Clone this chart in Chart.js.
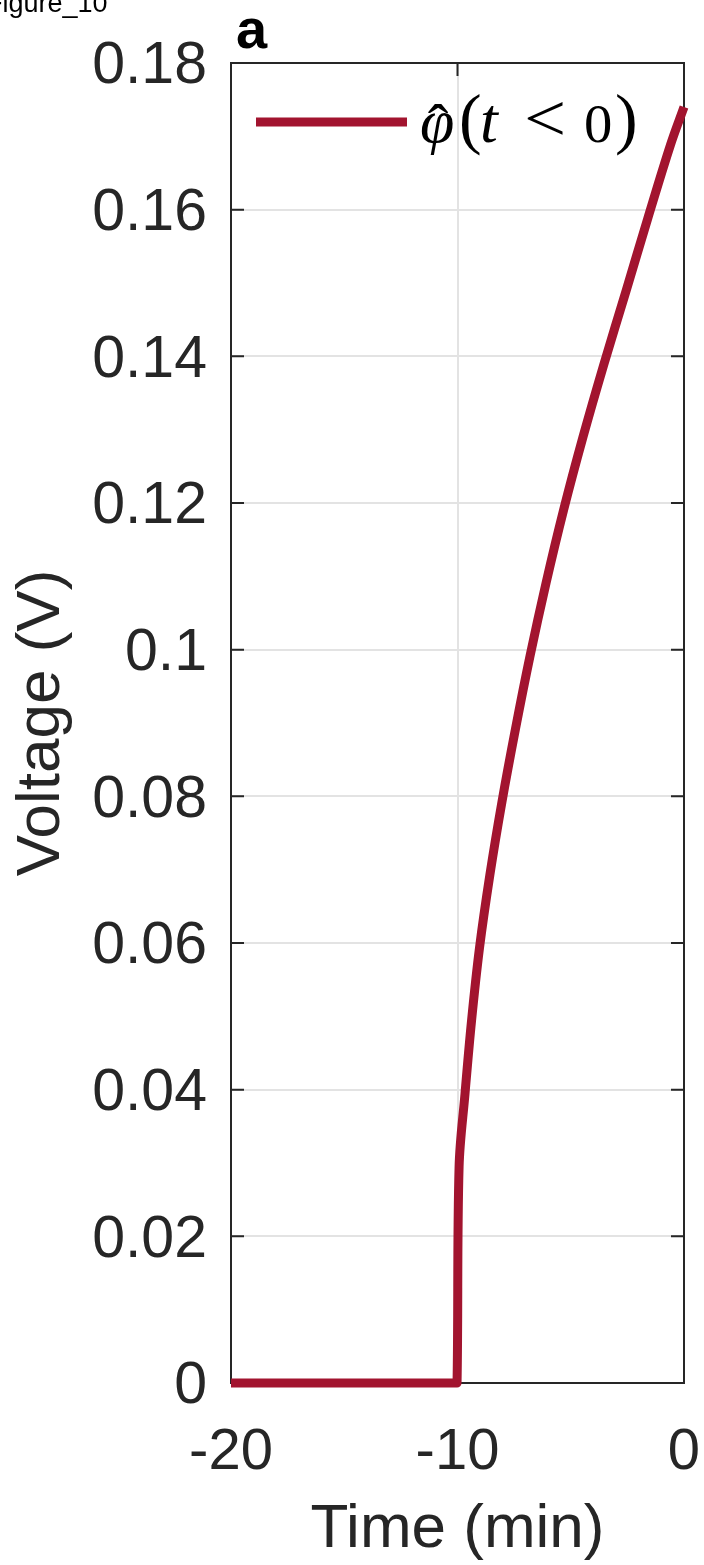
<!DOCTYPE html>
<html><head><meta charset="utf-8">
<script src="https://cdn.jsdelivr.net/npm/chart.js@4.4.1/dist/chart.umd.min.js"></script>
<style>
html,body{margin:0;padding:0;background:#fff;overflow:hidden;}
#wrap{position:relative;width:704px;height:1565px;}
canvas{position:absolute;left:0;top:0;}
.fig{position:absolute;left:-14px;top:-10px;font:27px/27px 'Liberation Sans',Arial,sans-serif;color:#000;white-space:nowrap;}
.pan{position:absolute;left:236px;top:1px;font:bold 56px/56px 'Liberation Sans',Arial,sans-serif;color:#000;}
</style></head><body>
<div id="wrap"><canvas id="c" width="704" height="1565"></canvas>
<div class="fig">Figure_10</div><div class="pan">a</div></div>
<script>
// ---- data ----
const timeMin = [-20, -10.1, -10.02, -9.93, -9.67, -9.38, -9.03, -8.57, -8.04, -7.44, -6.80, -6.09, -5.32, -4.46, -3.53, -2.56, -1.59, -0.60, 0];
const voltage = [0, 0, 0, 0.0295, 0.0394, 0.0494, 0.0593, 0.0693, 0.0792, 0.0892, 0.0991, 0.1091, 0.119, 0.129, 0.139, 0.1489, 0.1589, 0.1688, 0.174];
const xTicks = [-20, -10, 0];
const xTickLabels = ['-20', '-10', '0'];
const yTicks = [0, 0.02, 0.04, 0.06, 0.08, 0.10, 0.12, 0.14, 0.16, 0.18];
const yTickLabels = ['0', '0.02', '0.04', '0.06', '0.08', '0.1', '0.12', '0.14', '0.16', '0.18'];
const seriesLabel = 'φ̂(t < 0)';
const xTitle = 'Time (min)';
const yTitle = 'Voltage (V)';

const TXT = '#262626';
const LINE = '#A2142F';
const GRID = '#e3e3e3';
const SANS = "'Liberation Sans', Arial, Helvetica, sans-serif";
const SERIF = "'Liberation Serif', 'Times New Roman', serif";

const boxTicks = {
  id: 'boxTicks',
  beforeDatasetsDraw(chart) {
    const {ctx, chartArea: a, scales: {x, y}} = chart;
    ctx.save();
    ctx.strokeStyle = TXT;
    ctx.lineWidth = 2;
    ctx.strokeRect(a.left, a.top, a.right - a.left, a.bottom - a.top);
    const L = 13;
    ctx.beginPath();
    yTicks.forEach(v => {
      const p = y.getPixelForValue(v);
      ctx.moveTo(a.left, p); ctx.lineTo(a.left + L, p);
      ctx.moveTo(a.right, p); ctx.lineTo(a.right - L, p);
    });
    xTicks.forEach(v => {
      const p = x.getPixelForValue(v);
      ctx.moveTo(p, a.bottom); ctx.lineTo(p, a.bottom - L);
      ctx.moveTo(p, a.top); ctx.lineTo(p, a.top + L);
    });
    ctx.stroke();
    ctx.restore();
  }
};

const mathLegend = {
  id: 'mathLegend',
  afterDatasetsDraw(chart) {
    const {ctx, chartArea: a} = chart;
    const ds = chart.data.datasets[0];
    const yc = a.top + 59;
    ctx.save();
    ctx.strokeStyle = ds.borderColor;
    ctx.lineWidth = ds.borderWidth;
    ctx.lineCap = 'butt';
    ctx.beginPath();
    ctx.moveTo(a.left + 25, yc);
    ctx.lineTo(a.left + 176, yc);
    ctx.stroke();
    // label (seriesLabel) typeset as math: italic symbols, upright operators
    const base = a.top + 79;
    const pieces = [
      {t: 'φ', f: 'italic 62px', dx: 189, dy: 0, sx: 1},
      {t: '(', f: '68px', dx: 228, dy: -1, sx: 1},
      {t: 't', f: 'italic 64px', dx: 249, dy: 0, sx: 1},
      {t: '<', f: '68px', dx: 293, dy: -1, sx: 1.1},
      {t: '0', f: '54px', dx: 353, dy: 0, sx: 1.05},
      {t: ')', f: '68px', dx: 384, dy: -1, sx: 1}
    ];
    ctx.fillStyle = '#000';
    ctx.textBaseline = 'alphabetic';
    ctx.textAlign = 'left';
    pieces.forEach(p => {
      ctx.save();
      ctx.font = p.f + ' ' + SERIF;
      ctx.translate(a.left + p.dx, base + p.dy);
      ctx.scale(p.sx, 1);
      ctx.fillText(p.t, 0, 0);
      ctx.restore();
    });
    // hat over phi
    ctx.font = '62px ' + SERIF;
    ctx.textAlign = 'center';
    ctx.fillText('ˆ', a.left + 207, base + 5);
    ctx.restore();
  }
};

new Chart(document.getElementById('c'), {
  type: 'line',
  data: {
    datasets: [{
      label: seriesLabel,
      data: timeMin.map((t, i) => ({x: t, y: voltage[i]})),
      borderColor: LINE,
      backgroundColor: LINE,
      borderWidth: 9,
      pointRadius: 0,
      tension: 0.35,
      fill: false,
      clip: false,
      borderJoinStyle: 'round'
    }]
  },
  options: {
    responsive: false,
    devicePixelRatio: 1,
    animation: false,
    layout: {padding: {left: 0, right: 20, top: 63, bottom: 0}},
    plugins: {legend: {display: false}, tooltip: {enabled: false}},
    scales: {
      x: {
        type: 'linear', min: -20, max: 0, position: 'bottom',
        afterBuildTicks: s => { s.ticks = xTicks.map(v => ({value: v})); },
        afterFit: s => { s.height = 182; s.paddingLeft = 0; s.paddingRight = 0; },
        ticks: {
          autoSkip: false, maxRotation: 0, padding: 35, color: TXT,
          font: {family: SANS, size: 58},
          callback: (v) => xTickLabels[xTicks.indexOf(v)]
        },
        grid: {color: GRID, lineWidth: 2, drawTicks: false},
        border: {display: false},
        title: {display: true, text: xTitle, color: TXT, font: {family: SANS, size: 62, lineHeight: 1}, padding: {top: 0, bottom: 4}}
      },
      y: {
        type: 'linear', min: 0, max: 0.18,
        afterBuildTicks: s => { s.ticks = yTicks.map(v => ({value: v})); },
        afterFit: s => { s.width = 231; s.paddingTop = 0; s.paddingBottom = 0; },
        ticks: {
          autoSkip: false, padding: 24, color: TXT, labelOffset: 4,
          font: {family: SANS, size: 59},
          callback: (v) => yTickLabels[yTicks.findIndex(t => Math.abs(t - v) < 1e-9)]
        },
        grid: {color: GRID, lineWidth: 2, drawTicks: false},
        border: {display: false},
        title: {display: true, text: yTitle, color: TXT, font: {family: SANS, size: 62, lineHeight: 1}, padding: {top: 11, bottom: 0}}
      }
    }
  },
  plugins: [boxTicks, mathLegend]
});
</script>
</body></html>
